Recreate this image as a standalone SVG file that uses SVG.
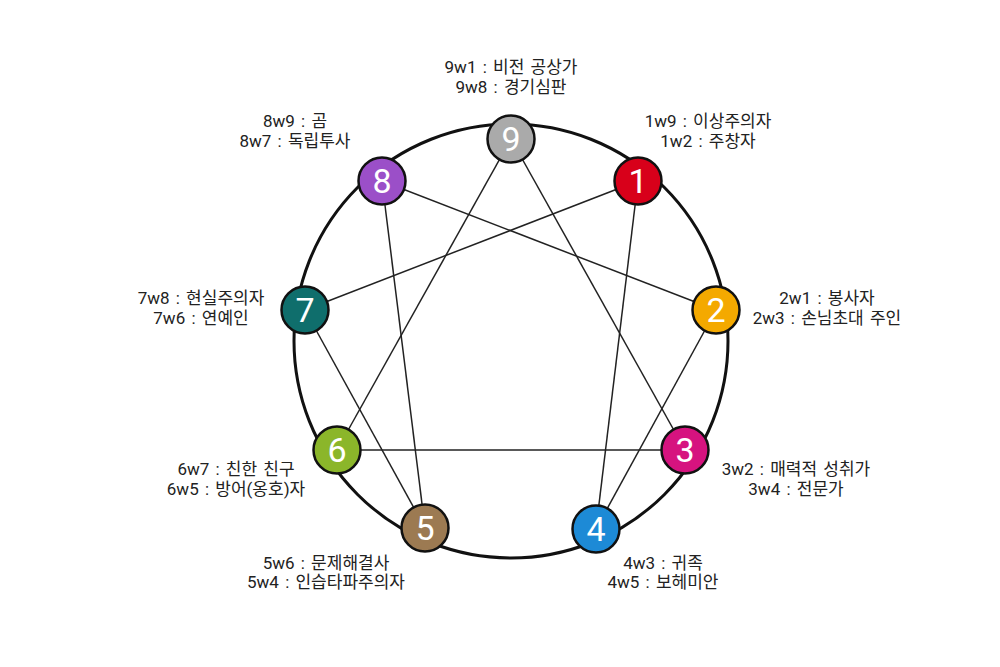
<svg xmlns="http://www.w3.org/2000/svg" width="1000" height="667" viewBox="0 0 1000 667">
<style>
.lbl{font-family:Roboto,"Noto Sans CJK KR","Noto Sans",sans-serif;font-size:17px;fill:#222;text-anchor:middle;word-spacing:2px}
.num{font-family:Roboto,"Noto Sans",sans-serif;font-size:34px;fill:#fff;text-anchor:middle}
.node circle{stroke:#111;stroke-width:2.5}
.conn line{stroke:#222;stroke-width:1.5}
</style>
<rect width="1000" height="667" fill="#fff"/>
<circle id="ring" cx="511" cy="341" r="217" fill="none" stroke="#111" stroke-width="3"/>
<g id="connectors" class="conn">
<line x1="638" y1="181" x2="596" y2="529"/>
<line x1="596" y1="529" x2="716" y2="310"/>
<line x1="716" y1="310" x2="382" y2="181"/>
<line x1="382" y1="181" x2="425" y2="528"/>
<line x1="425" y1="528" x2="305" y2="310"/>
<line x1="305" y1="310" x2="638" y2="181"/>
<line x1="511" y1="139" x2="685" y2="450"/>
<line x1="685" y1="450" x2="337" y2="450"/>
<line x1="337" y1="450" x2="511" y2="139"/>
</g>
<g id="node9" class="node"><circle cx="511" cy="139" r="23.5" fill="#aaaaaa"/><text class="num" x="511" y="151">9</text></g>
<g id="node1" class="node"><circle cx="638" cy="181" r="23.5" fill="#d8001a"/><text class="num" x="638" y="193">1</text></g>
<g id="node2" class="node"><circle cx="716" cy="310" r="23.5" fill="#f4a900"/><text class="num" x="716" y="322">2</text></g>
<g id="node3" class="node"><circle cx="685" cy="450" r="23.5" fill="#d6137f"/><text class="num" x="685" y="462">3</text></g>
<g id="node4" class="node"><circle cx="596" cy="529" r="23.5" fill="#1d8ad6"/><text class="num" x="596" y="541">4</text></g>
<g id="node5" class="node"><circle cx="425" cy="528" r="23.5" fill="#9c7a52"/><text class="num" x="425" y="540">5</text></g>
<g id="node6" class="node"><circle cx="337" cy="450" r="23.5" fill="#8bb62a"/><text class="num" x="337" y="462">6</text></g>
<g id="node7" class="node"><circle cx="305" cy="310" r="23.5" fill="#0f6e6c"/><text class="num" x="305" y="322">7</text></g>
<g id="node8" class="node"><circle cx="382" cy="181" r="23.5" fill="#9b4fc8"/><text class="num" x="382" y="193">8</text></g>
<g id="labels">
<text class="lbl" id="label9"><tspan x="511" y="73">9w1 : 비전 공상가</tspan><tspan x="511" y="93">9w8 : 경기심판</tspan></text>
<text class="lbl" id="label8"><tspan x="295" y="127">8w9 : 곰</tspan><tspan x="295" y="147">8w7 : 독립투사</tspan></text>
<text class="lbl" id="label1"><tspan x="708" y="127">1w9 : 이상주의자</tspan><tspan x="708" y="147">1w2 : 주창자</tspan></text>
<text class="lbl" id="label7"><tspan x="201" y="304">7w8 : 현실주의자</tspan><tspan x="201" y="324">7w6 : 연예인</tspan></text>
<text class="lbl" id="label2"><tspan x="827" y="304">2w1 : 봉사자</tspan><tspan x="827" y="324">2w3 : 손님초대 주인</tspan></text>
<text class="lbl" id="label6"><tspan x="236" y="475">6w7 : 친한 친구</tspan><tspan x="236" y="495">6w5 : 방어(옹호)자</tspan></text>
<text class="lbl" id="label3"><tspan x="796" y="475">3w2 : 매력적 성취가</tspan><tspan x="796" y="495">3w4 : 전문가</tspan></text>
<text class="lbl" id="label5"><tspan x="326" y="569">5w6 : 문제해결사</tspan><tspan x="326" y="588">5w4 : 인습타파주의자</tspan></text>
<text class="lbl" id="label4"><tspan x="663" y="569">4w3 : 귀족</tspan><tspan x="663" y="588">4w5 : 보헤미안</tspan></text>
</g>
</svg>
